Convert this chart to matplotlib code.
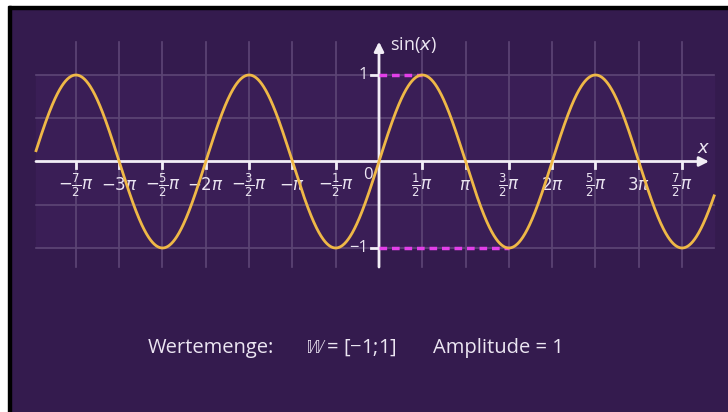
import numpy as np
import matplotlib
matplotlib.use("Agg")
import matplotlib.pyplot as plt
from matplotlib.patches import Rectangle

# chart values
x_start, x_end = -3.96 * np.pi, 3.87 * np.pi   # visible part of sin(x)
tick_steps = [-7, -6, -5, -4, -3, -2, -1, 1, 2, 3, 4, 5, 6, 7]   # multiples of pi/2
tick_labels = [r"$-\frac{7}{2}\pi$", r"$-3\pi$", r"$-\frac{5}{2}\pi$", r"$-2\pi$",
               r"$-\frac{3}{2}\pi$", r"$-\pi$", r"$-\frac{1}{2}\pi$",
               r"$\frac{1}{2}\pi$", r"$\pi$", r"$\frac{3}{2}\pi$", r"$2\pi$",
               r"$\frac{5}{2}\pi$", r"$3\pi$", r"$\frac{7}{2}\pi$"]
y_ticks = [1, -1]
y_grid = [1, 0.5, -0.5, -1]
max_x = np.pi / 2
min_x = 3 * np.pi / 2
summary = ["Wertemenge:", r"$\mathbb{W}$ = [−1;1]", "Amplitude = 1"]

bg = "#341b4e"
plot_bg = "#3a1e56"
gold = "#efb847"
pink = "#e23fe8"
gridc = "#5d4676"

plt.rcParams["font.family"] = ["Open Sans", "DejaVu Sans"]
plt.rcParams["mathtext.fontset"] = "dejavusans"

fig = plt.figure(figsize=(7.28, 4.12), dpi=100, facecolor=bg)
ax = fig.add_axes([0, 0, 1, 1])
ax.set_facecolor(bg)
ax.axis("off")

# pixel mapping: origin at (379, 161.5), pi/2 = 43.3 px, 1 unit = 86.5 px
sx = 43.3 / (np.pi / 2)
sy = 86.5
ax.set_xlim(-379 / sx, (728 - 379) / sx)
ax.set_ylim(-(412 - 161.5) / sy, 161.5 / sy)

# border strips
fig.patches.append(Rectangle((0, 1 - 6 / 412), 1, 6 / 412, transform=fig.transFigure, color="white", zorder=0))
fig.patches.append(Rectangle((0, 1 - 9 / 412), 1, 3 / 412, transform=fig.transFigure, color="black", zorder=0))
fig.patches.append(Rectangle((0, 0), 8 / 728, 1, transform=fig.transFigure, color="white", zorder=0))
fig.patches.append(Rectangle((8 / 728, 0), 3 / 728, 1 - 6 / 412, transform=fig.transFigure, color="black", zorder=0))

gl, gr = -343 / sx, 335 / sx
ax.add_patch(Rectangle((gl, -1), gr - gl, 2, color=plot_bg, zorder=0))
for y in y_grid:
    ax.plot([gl, gr], [y, y], color=gridc, lw=1.2, zorder=1)
for k in tick_steps:
    ax.plot([k * np.pi / 2] * 2, [-1.22, 1.38], color=gridc, lw=1.2, zorder=1)

# axes with arrows
ax.annotate("", xy=(330 / sx, 0), xytext=(gl, 0),
            arrowprops=dict(arrowstyle="-|>", color="#f2eef6", lw=2, mutation_scale=14, shrinkA=0, shrinkB=0))
ax.annotate("", xy=(0, 1.385), xytext=(0, -1.22),
            arrowprops=dict(arrowstyle="-|>", color="#f2eef6", lw=2, mutation_scale=14, shrinkA=0, shrinkB=0))

for k, lab in zip(tick_steps, tick_labels):
    xv = k * np.pi / 2
    ax.plot([xv, xv], [0, -0.07], color="#f2eef6", lw=2, zorder=3)
    ax.text(xv, -0.28, lab, color="#ece6f2", fontsize=12, ha="center", va="center", zorder=2)

for y in y_ticks:
    ax.plot([-8 / sx, 0], [y, y], color="#f2eef6", lw=2, zorder=3)
    ax.text(-11 / sx, y, "−1" if y < 0 else "1", color="#ece6f2", fontsize=12, ha="right", va="center")
ax.text(-11 / sx, -0.16, "0", color="#ece6f2", fontsize=12, ha="center", va="center")

ax.text(11 / sx, 1.35, r"sin($x$)", color="#ece6f2", fontsize=13, ha="left", va="center")
ax.text(325 / sx, 0.16, r"$x$", color="#ece6f2", fontsize=13, ha="center", va="center")

# magenta markers of max / min
ax.plot([0, max_x], [1, 1], color=pink, lw=2.5, ls=(0, (2.2, 1.4)), zorder=4)
ax.plot([0, min_x], [-1, -1], color=pink, lw=2.5, ls=(0, (2.2, 1.4)), zorder=4)

xs = np.linspace(x_start, x_end, 1500)
ax.plot(xs, np.sin(xs), color=gold, lw=2, zorder=5)

for txt, xpos in zip(summary, [148, 305, 433]):
    fig.text(xpos / 728, 1 - 348 / 412, txt, color="#ece6f2", fontsize=14.5, ha="left", va="center")

fig.savefig("out.png", dpi=100, facecolor=bg)
